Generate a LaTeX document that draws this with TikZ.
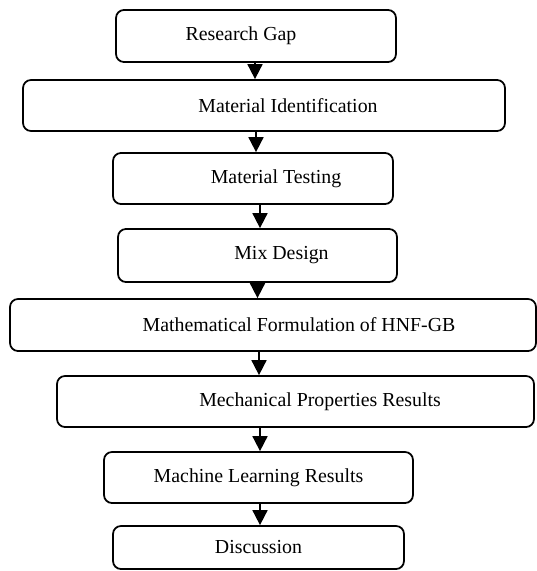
\documentclass[tikz,border=0pt]{standalone}
\usepackage{fontspec}
\setmainfont{Liberation Serif}
\usetikzlibrary{arrows.meta}

\begin{document}
\begin{tikzpicture}[x=0.02cm, y=-0.02cm,
    stage/.style={draw, rounded corners=4.5pt, line width=1pt, minimum height=1.02cm, inner sep=0pt},
    stagetext/.style={inner sep=0pt, font=\fontsize{11.3}{13.5}\selectfont},
    flow/.style={-{Triangle[width=0.3cm,length=0.3cm]}, line width=1pt}]
      \useasboundingbox (0,0) rectangle (537,571);

      % Etapas
      \node[stage, minimum width=5.6cm, minimum height=1.04cm] (gap) at (256,36) {};
      \node[stage, minimum width=9.64cm] (ident) at (264,105.5) {};
      \node[stage, minimum width=5.6cm] (test) at (253,178.5) {};
      \node[stage, minimum width=5.58cm, minimum height=1.06cm] (mix) at (257.5,255.5) {};
      \node[stage, minimum width=10.52cm, minimum height=1.04cm] (math) at (273,325) {};
      \node[stage, minimum width=9.54cm] (mech) at (295.5,401.5) {};
      \node[stage, minimum width=6.18cm] (ml) at (258.5,477.5) {};
      \node[stage, minimum width=5.82cm, minimum height=0.86cm] (disc) at (258.5,547.5) {};

      % Textos
      \node[stagetext] (gapt) at ([xshift=-0.3cm]gap.center) {Research Gap};
      \node[stagetext] (identt) at ([xshift=0.48cm]ident.center) {Material Identification};
      \node[stagetext] (testt) at ([xshift=0.46cm]test.center) {Material Testing};
      \node[stagetext] (mixt) at ([xshift=0.48cm]mix.center) {Mix Design};
      \node[stagetext] (matht) at ([xshift=0.52cm]math.center) {Mathematical Formulation of HNF-GB};
      \node[stagetext] (mecht) at ([xshift=0.49cm]mech.center) {Mechanical Properties Results};
      \node[stagetext] (mlt) at (ml.center) {Machine Learning Results};
      \node[stagetext] (disct) at (disc.center) {Discussion};

      % Setas
      \draw[flow] ([xshift=-0.02cm]gap.south) -- ([xshift=-0.02cm]gap.south |- ident.north);
      \draw[flow] ([xshift=-0.16cm]ident.south) -- ([xshift=-0.16cm]ident.south |- test.north);
      \draw[flow] ([xshift=0.14cm]test.south) -- ([xshift=0.14cm]test.south |- mix.north);
      \draw[flow] (mix.south) -- (mix.south |- math.north);
      \draw[flow] ([xshift=-0.28cm]math.south) -- ([xshift=-0.28cm]math.south |- mech.north);
      \draw[flow] ([xshift=-0.71cm]mech.south) -- ([xshift=-0.71cm]mech.south |- ml.north);
      \draw[flow] ([xshift=0.03cm]ml.south) -- ([xshift=0.03cm]ml.south |- disc.north);

    \end{tikzpicture}
\end{document}
